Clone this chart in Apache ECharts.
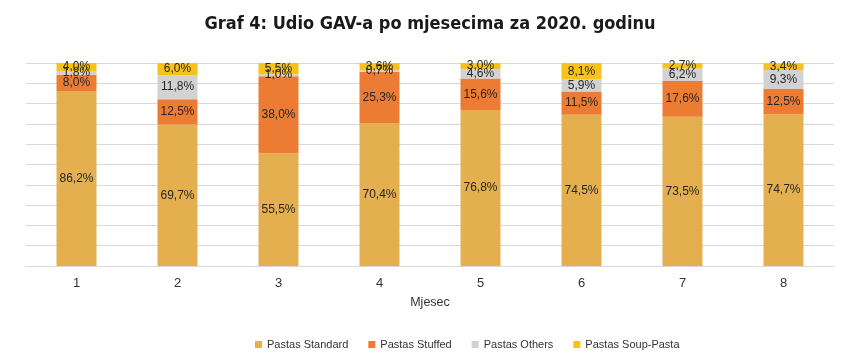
<!DOCTYPE html>
<html>
<head>
<meta charset="utf-8">
<script src="https://cdn.jsdelivr.net/npm/echarts@6/dist/echarts.min.js"></script>
<style>
html,body{margin:0;padding:0;background:#fff;}
#c{width:860px;height:362px;}
</style>
</head>
<body>
<div id="c"></div>
<script>
const categories = ['1','2','3','4','5','6','7','8'];
const seriesNames = ['Pastas Standard','Pastas Stuffed','Pastas Others','Pastas Soup-Pasta'];
const standard = [86.2, 69.7, 55.5, 70.4, 76.8, 74.5, 73.5, 74.7];
const stuffed  = [8.0, 12.5, 38.0, 25.3, 15.6, 11.5, 17.6, 12.5];
const others   = [1.8, 11.8, 1.0, 0.7, 4.6, 5.9, 6.2, 9.3];
const soup     = [4.0, 6.0, 5.5, 3.6, 3.0, 8.1, 2.7, 3.4];
const colors = ['#E4B04F', '#EC7C33', '#D2D2D2', '#F8C11C'];

const SANS = '"Liberation Sans", Arial, sans-serif';
const chart = echarts.init(document.getElementById('c'), null, {renderer:'canvas'});
const values = [standard, stuffed, others, soup];
const series = seriesNames.map((n, i) => ({
  name: n,
  type: 'bar',
  stack: 'total',
  barWidth: 40,
  data: values[i],
  itemStyle: { color: colors[i] },
  label: {
    show: true,
    position: 'inside',
    color: '#262626',
    fontFamily: SANS,
    fontSize: 12,
    formatter: p => p.value.toFixed(1).replace('.', ',') + '%'
  }
}));

chart.setOption({
  animation: false,
  title: {
    text: 'Graf 4: Udio GAV-a po mjesecima za 2020. godinu',
    left: 'center',
    top: 10,
    textStyle: { fontFamily: '"DejaVu Sans Condensed", sans-serif', fontWeight: 'bold', fontSize: 18, color: '#1a1a1a' }
  },
  grid: { left: 26, right: 26, top: 63, bottom: 96 },
  legend: {
    bottom: 7,
    left: 250,
    itemWidth: 7,
    itemHeight: 7,
    itemGap: 20,
    icon: 'rect',
    textStyle: { fontFamily: SANS, fontSize: 11, color: '#333' },
    data: seriesNames
  },
  xAxis: {
    type: 'category',
    data: categories,
    name: 'Mjesec',
    nameLocation: 'middle',
    nameGap: 30,
    nameTextStyle: { fontFamily: SANS, fontSize: 12.5, color: '#333' },
    axisLine: { lineStyle: { color: '#D9D9D9' } },
    axisTick: { show: false },
    axisLabel: { fontFamily: SANS, fontSize: 13, color: '#333', margin: 11 }
  },
  yAxis: {
    type: 'value',
    min: 0,
    max: 100,
    interval: 10,
    axisLabel: { show: false },
    axisLine: { show: false },
    axisTick: { show: false },
    splitLine: { lineStyle: { color: '#D9D9D9' } }
  },
  series: series
});
</script>
</body>
</html>
